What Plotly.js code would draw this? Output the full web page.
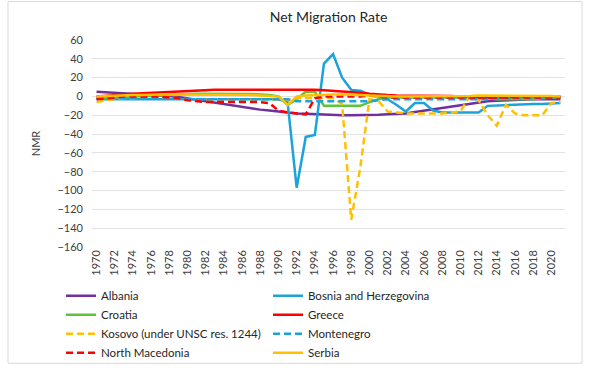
<!DOCTYPE html>
<html>
<head>
<meta charset="utf-8">
<script src="https://cdn.plot.ly/plotly-3.0.1.min.js"></script>
<style>
  html, body { margin: 0; padding: 0; background: #ffffff; }
  #chart { width: 593px; height: 379px; }
</style>
</head>
<body>
<div id="chart"></div>
<script>
// Years 1970..2021
var years = [];
for (var y = 1970; y <= 2021; y++) years.push(y);

var albania = [5, 4.5, 4, 3.5, 3, 2.5, 2, 1.5, 0.5, -0.5,
  -2, -4, -5, -6.5, -8, -9.5, -11, -12.5, -14, -15,
  -16, -17.5, -18, -18.5, -19, -19.5, -20, -20, -20, -20,
  -20, -19.5, -19, -18.5, -18, -16.5, -15, -13.5, -12, -10.5,
  -9, -7.5, -6, -5, -4.5, -4, -3.5, -3.5, -3, -3,
  -3, -3];

var bosnia = [-3, -3, -3, -3, -3, -3, -3, -3, -3, -3,
  -3, -3, -3, -3, -3, -3, -3, -3, -3, -3,
  -3, -6, -97, -43, -41, 35, 45, 20, 7, 6,
  2, 0, -3, -9, -16, -7, -7, -15, -17, -17,
  -17, -17, -17, -10, -9.5, -9, -9, -8.5, -8, -8,
  -7.5, -7];

var croatia = [-2, -1.5, -1, -0.5, 0, 0.5, 1, 1.5, 2, 2,
  2.5, 3, 3, 3, 3, 3, 3, 2.5, 2, 1.5,
  0, -9, -3, 5, 5, -10, -10, -10, -10, -10,
  -6, -3, -1, -1, -1, -1, -1, -1, -1, -1,
  -1, -2, -2, -2, -3, -3, -3, -3, -3, -2,
  -1, -1];

var greece = [0, 0.5, 1, 2, 3, 3.5, 4, 4.5, 5, 5.5,
  6, 6.5, 6.5, 7, 7, 7, 7.5, 7.5, 7.5, 7.5,
  7.5, 7.5, 7, 7, 7, 6.5, 6, 5.5, 5, 4,
  3, 2, 1.5, 1, 1, 1, 1, 1, 1, 0.5,
  0, -1, -1.5, -1.5, -1, -1, -0.5, 0, 0, 0,
  0, 0];

var kosovo = [-6, -4, -3, -2, -2, -1, -1, -1, -1, -2,
  -3, -3, -3, -3, -3, -3, -3, -3, -3, -3,
  -3, -3, -2, -2, -2, -2, -2, -8, -131, -75,
  -3, -5, -16, -17, -18, -18, -18, -18, -18, -17,
  -16, 0, -4, -20, -31, -9, -18, -20, -20, -20,
  -7, -6];

var montenegro = [-2, -2, -2, -2, -2, -2, -2, -2, -2, -2,
  -3, -3, -3, -3, -3, -3, -3, -3, -3, -3,
  -3, -3, -5, -5, -5, -5, -5, -5, -5, -5,
  -5, -4, -3, -3, -3, -3, -3, -3, -3, -3,
  -3, -3, -3, -3, -2, -2, -2, -2, -1.5, -1.5,
  -1, -1];

var macedonia = [-3, -2, -1, 0, 0, 0, 0, 0, -1, -2,
  -4, -5, -6, -6, -6, -6, -6, -6, -6, -7,
  -15, -17, -18, -19, -2, 0, 0, 0, 0, 0,
  1, 0, -1, -1, -1, -1, -1, -1, -1, -1,
  -1, -1, -1, -1, -1, -1, -1, -1, -1, -1,
  -1, -1];

var serbia = [0, 0.5, 1, 1, 1.5, 1.5, 2, 2, 2, 2,
  2, 2, 2, 2, 2, 2, 2, 1.5, 1, 0.5,
  0, -9, 0, 1, 1.5, 2, 2, 2, 2, 1.5,
  1, 0.5, 0, 0, 0, 0, 0, 0, 0, 0,
  0, 0.5, 1, 1, 1, 1, 1, 1, 1, 1,
  0.5, 0];

var names = ["Albania", "Bosnia and Herzegovina", "Croatia", "Greece",
  "Kosovo (under UNSC res. 1244)", "Montenegro", "North Macedonia", "Serbia"];
var series = [albania, bosnia, croatia, greece, kosovo, montenegro, macedonia, serbia];
var colors = ["#7030A0", "#1CA3DC", "#5CC43A", "#FF0000", "#FFC000", "#1CA3DC", "#FF0000", "#FFC000"];
var dashes = ["solid", "solid", "solid", "solid", "7px,4px", "7px,4px", "7px,4px", "solid"];

var tickVals = [];
for (var t = 1970; t <= 2020; t += 2) tickVals.push(t);

var traces = series.map(function (s, i) {
  return {
    x: years, y: s, name: names[i], type: "scatter", mode: "lines",
    line: { color: colors[i], width: 2.5, dash: dashes[i] }
  };
});

var layout = {
  width: 593, height: 379,
  margin: { l: 92, r: 28, t: 40, b: 129 },
  paper_bgcolor: "#ffffff", plot_bgcolor: "#ffffff",
  font: { family: "Lato, 'Open Sans', sans-serif", color: "#404040", size: 11 },
  title: { text: "Net Migration Rate", x: 0.5, xref: "paper", y: 0.955, yanchor: "middle",
    font: { family: "Lato, sans-serif", size: 14, color: "#262626" } },
  xaxis: {
    range: [1969.5, 2021.5], tickmode: "array", tickvals: tickVals,
    ticktext: tickVals.map(String), tickangle: -90,
    showgrid: false, zeroline: false, showline: false, ticks: "",
    tickfont: { size: 11, color: "#404040" }, fixedrange: true
  },
  yaxis: {
    range: [-160, 60], dtick: 20, tick0: 0,
    showgrid: true, gridcolor: "#e2e2e2", gridwidth: 1,
    zeroline: false, showline: false, ticks: "",
    ticklabelstandoff: 8,
    tickfont: { size: 11, color: "#404040" },
    title: { text: "NMR", standoff: 14, font: { size: 11, color: "#404040" } }
  },
  showlegend: true,
  legend: {
    orientation: "h", x: -0.0655, xanchor: "left", y: -0.165, yanchor: "top",
    entrywidth: 162, entrywidthmode: "pixels", traceorder: "normal",
    font: { size: 11.5, color: "#262626" }, bgcolor: "rgba(0,0,0,0)"
  },
  shapes: [{
    type: "rect", xref: "paper", yref: "paper", layer: "below",
    x0: (8 - 92) / 473, x1: (582 - 92) / 473,
    y0: (250 - 368) / 210, y1: (250 - 1) / 210,
    line: { color: "#d9d9d9", width: 1 }
  }]
};

Plotly.newPlot("chart", traces, layout, { staticPlot: true });
</script>
</body>
</html>
